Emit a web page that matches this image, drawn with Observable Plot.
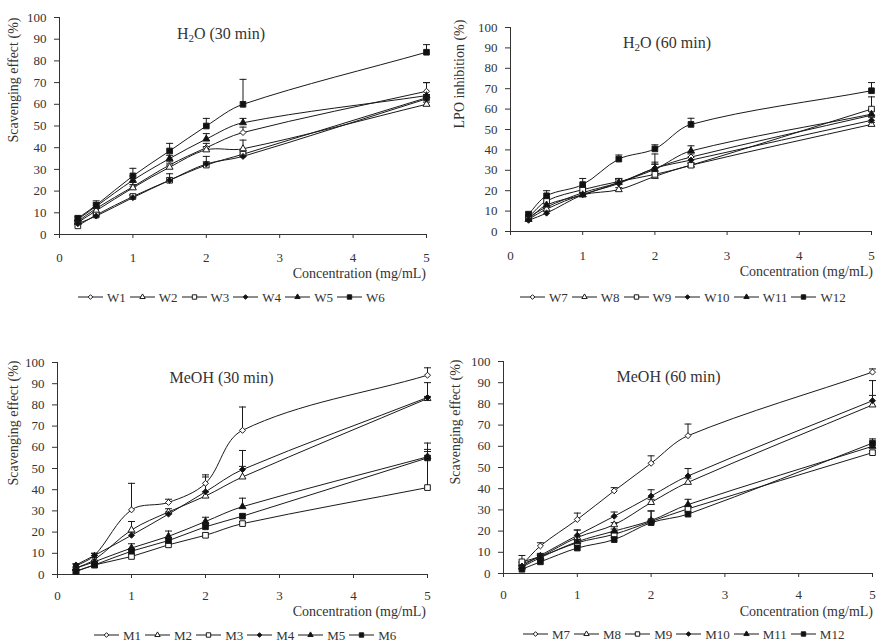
<!DOCTYPE html>
<html><head><meta charset="utf-8">
<script src="https://cdn.jsdelivr.net/npm/d3@7"></script>
<script src="https://cdn.jsdelivr.net/npm/@observablehq/plot@0.6"></script>
<style>
body{margin:0;background:#fff;font-family:"Liberation Serif","Times New Roman",serif;color:#333}
#root{position:relative;width:877px;height:643px;overflow:hidden;background:#fff}
.plot{position:absolute}
.title{position:absolute;font-size:16px;line-height:16px;white-space:nowrap;transform:translateX(-50%);color:#333}
.title sub{font-size:11px;line-height:0;vertical-align:-3px}
.xlab{position:absolute;font-size:14px;line-height:14px;white-space:nowrap;color:#333}
.ylab{position:absolute;font-size:14px;line-height:14px;white-space:nowrap;transform:translate(-50%,-50%) rotate(-90deg);color:#333}
.legend{position:absolute;display:flex;align-items:center;font-size:13px;line-height:13px;color:#333;white-space:nowrap}
.legend .it{display:flex;align-items:center;margin-right:4px}
.legend .it span{margin-left:4px}
</style></head>
<body><div id="root"></div>
<script>
// Concentrations (mg/mL)
const conc = [0.25, 0.5, 1, 1.5, 2, 2.5, 5];

// H2O (30 min) — scavenging effect (%) and upper error
const W1 = [6, 12, 22, 32, 40, 47, 66],        W1_err = [1, 1.5, 2, 1.5, 2, 2.5, 4];
const W2 = [5.5, 11, 21.5, 31, 39, 39.5, 60],  W2_err = [1, 1, 1.5, 1.5, 1.5, 4, 1];
const W3 = [4, 9, 17.5, 25, 32, 37, 63],       W3_err = [1, 1, 1, 1, 4, 1, 1.5];
const W4 = [5, 8.5, 17, 25, 32.5, 36, 62.5],   W4_err = [0.5, 0.5, 1, 3, 1, 1, 1];
const W5 = [7, 13, 25, 35, 44, 51.5, 64],      W5_err = [1, 1.5, 2, 1.5, 2.5, 2, 6];
const W6 = [7.5, 13.5, 27, 38.5, 50, 60, 84],  W6_err = [1, 2, 3.5, 3.5, 3.5, 11.5, 3.5];

// H2O (60 min) — LPO inhibition (%)
const W7  = [7, 12, 19, 24, 31, 36.5, 57],       W7_err  = [1, 1.5, 1, 1.5, 2, 1.5, 2];
const W8  = [6, 11, 18, 20.5, 27, 32.5, 52.5],   W8_err  = [0.5, 1, 1, 1, 1, 1, 1];
const W9  = [7, 15, 20.5, 24.5, 28, 32.5, 60],   W9_err  = [1, 1.5, 1, 1.5, 5, 1, 6];
const W10 = [5.5, 9, 18, 23.5, 31, 35, 54.5],    W10_err = [0.5, 1, 1, 1, 7, 1.5, 1.5];
const W11 = [6, 13, 18, 24, 30.5, 39.5, 57.5],   W11_err = [1, 1.5, 1, 2, 3.5, 2.5, 2.5];
const W12 = [8.5, 17.5, 23, 35.5, 40.5, 52.5, 69], W12_err = [1, 2.5, 3, 2, 2, 3, 4];

// MeOH (30 min) — scavenging effect (%)
const M1 = [4, 9, 30.5, 34, 43, 68, 94],       M1_err = [1, 1, 12.5, 1.5, 4, 11, 3.5];
const M2 = [3, 7, 21, 29.5, 37, 46, 83],       M2_err = [0.5, 1, 4, 1.5, 2, 5, 1];
const M3 = [1.5, 4.5, 8.5, 14, 18.5, 24, 41],  M3_err = [0.5, 0.5, 1, 1, 1, 1, 17];
const M4 = [4.5, 9, 18.5, 28.5, 39, 49.5, 83.5], M4_err = [0.5, 1, 1.5, 1, 7, 9, 7];
const M5 = [3, 6, 12.5, 18, 25, 32, 55.5],     M5_err = [0.5, 0.5, 2, 2.5, 2, 4, 6.5];
const M6 = [1.5, 4.5, 11, 16, 22.5, 27.5, 55], M6_err = [0.5, 0.5, 1, 1, 1, 1, 4];

// MeOH (60 min) — scavenging effect (%)
const M7  = [4, 13, 25.5, 39, 52, 65, 95],       M7_err  = [1, 1.5, 3, 1.5, 3.5, 5.5, 1.5];
const M8  = [4.5, 8, 17, 23, 33.5, 43, 79.5],    M8_err  = [1, 1, 3.5, 1, 1.5, 2, 4.5];
const M9  = [5.5, 8, 14.5, 18.5, 24.5, 30.5, 57], M9_err = [3, 1, 1, 1, 5, 1, 1];
const M10 = [3.5, 8.5, 18, 27, 36.5, 46, 81.5],  M10_err = [0.5, 1, 2.5, 2, 3, 3.5, 9.5];
const M11 = [3, 7.5, 15, 20, 25, 32.5, 60],      M11_err = [0.5, 1, 1, 1, 4.5, 2.5, 1.5];
const M12 = [2, 5.5, 12, 16, 24, 28, 61.5],      M12_err = [0.5, 0.5, 1, 1, 1, 1, 2];

// Labels
const titles = [["H", "2", "O (30 min)"], ["H", "2", "O (60 min)"], ["MeOH (30 min)"], ["MeOH (60 min)"]];
const yLabels = ["Scavenging effect (%)", "LPO inhibition (%)", "Scavenging effect (%)", "Scavenging effect (%)"];
const xLabel = "Concentration (mg/mL)";
const xTicks = [0, 1, 2, 3, 4, 5];
const yTicks = [0, 10, 20, 30, 40, 50, 60, 70, 80, 90, 100];

const panelSeries = [
  [["W1", W1, W1_err], ["W2", W2, W2_err], ["W3", W3, W3_err], ["W4", W4, W4_err], ["W5", W5, W5_err], ["W6", W6, W6_err]],
  [["W7", W7, W7_err], ["W8", W8, W8_err], ["W9", W9, W9_err], ["W10", W10, W10_err], ["W11", W11, W11_err], ["W12", W12, W12_err]],
  [["M1", M1, M1_err], ["M2", M2, M2_err], ["M3", M3, M3_err], ["M4", M4, M4_err], ["M5", M5, M5_err], ["M6", M6, M6_err]],
  [["M7", M7, M7_err], ["M8", M8, M8_err], ["M9", M9, M9_err], ["M10", M10, M10_err], ["M11", M11, M11_err], ["M12", M12, M12_err]]
];

// Marker styles by series position
const styles = [
  {symbol: "diamond2", fill: "white", r: 2.7},
  {symbol: "triangle2", fill: "white", r: 3.3},
  {symbol: "square2", fill: "white", r: 3.6},
  {symbol: "diamond2", fill: "#111", r: 2.7},
  {symbol: "triangle2", fill: "#111", r: 3.3},
  {symbol: "square2", fill: "#111", r: 3.6}
];

// Layout
const layout = [
  {left: 0,   top: 0,   width: 438, height: 290, mL: 59, mR: 12, mT: 17, mB: 56, tickOff: 18,
   title: {cx: 221, top: 25.5}, ylab: {cx: 14, cy: 80}, xlab: {right: 426, top: 267}, legend: {left: 78, cy: 297}},
  {left: 438, top: 0,   width: 439, height: 290, mL: 72, mR: 6,  mT: 27, mB: 59, tickOff: 19,
   title: {cx: 667, top: 34.5}, ylab: {cx: 460, cy: 73.5}, xlab: {right: 873, top: 265}, legend: {left: 520, cy: 297}},
  {left: 0,   top: 320, width: 440, height: 290, mL: 57, mR: 13, mT: 42, mB: 36, tickOff: 16,
   title: {cx: 221.5, top: 369.5}, ylab: {cx: 14, cy: 422.5}, xlab: {right: 426, top: 605}, legend: {left: 94, cy: 635}},
  {left: 438, top: 320, width: 439, height: 290, mL: 65, mR: 5,  mT: 41, mB: 37, tickOff: 16,
   title: {cx: 668.5, top: 368.5}, ylab: {cx: 456, cy: 421.5}, xlab: {right: 873, top: 605}, legend: {left: 523, cy: 634}}
];

// Spreadsheet-style smoothed line: tangent along neighbouring chord, handles one third of the segment
function smoothCurve(context) {
  let pts;
  const k = 1 / 3;
  return {
    areaStart() {}, areaEnd() {},
    lineStart() { pts = []; },
    point(x, y) { pts.push([+x, +y]); },
    lineEnd() {
      const n = pts.length;
      if (!n) return;
      context.moveTo(pts[0][0], pts[0][1]);
      for (let i = 0; i < n - 1; i++) {
        const p0 = pts[Math.max(i - 1, 0)], p1 = pts[i], p2 = pts[i + 1], p3 = pts[Math.min(i + 2, n - 1)];
        const seg = Math.hypot(p2[0] - p1[0], p2[1] - p1[1]);
        const t1 = [p2[0] - p0[0], p2[1] - p0[1]], l1 = Math.hypot(t1[0], t1[1]) || 1;
        const t2 = [p3[0] - p1[0], p3[1] - p1[1]], l2 = Math.hypot(t2[0], t2[1]) || 1;
        const h = seg * k;
        context.bezierCurveTo(
          p1[0] + t1[0] / l1 * h, p1[1] + t1[1] / l1 * h,
          p2[0] - t2[0] / l2 * h, p2[1] - t2[1] / l2 * h,
          p2[0], p2[1]);
      }
    }
  };
}

const capSymbol = {draw(ctx) { ctx.moveTo(-3.5, 0); ctx.lineTo(3.5, 0); }};
const ink = "#1a1a1a";
const root = document.getElementById("root");

panelSeries.forEach((series, p) => {
  const L = layout[p];
  const rows = series.flatMap(([name, vals, errs], si) =>
    conc.map((c, i) => ({series: name, si, x: c, y: vals[i], top: vals[i] + errs[i]})));

  const marks = [
    Plot.ruleY([0], {stroke: "#333"}),
    Plot.ruleX([0], {stroke: "#333"}),
    Plot.axisX({ticks: xTicks, tickSize: 4, tickPadding: L.tickOff - 4, tickFormat: d => String(d), label: null, fill: "#333", stroke: "#333"}),
    Plot.axisY({ticks: yTicks, tickSize: 5, tickPadding: 8, label: null, fill: "#333", stroke: "#333"}),
    Plot.line(rows, {x: "x", y: "y", z: "series", curve: smoothCurve, stroke: ink, strokeWidth: 1}),
    Plot.ruleX(rows, {x: "x", y1: "y", y2: "top", stroke: ink, strokeWidth: 1}),
    Plot.dot(rows, {x: "x", y: "top", symbol: capSymbol, stroke: ink, strokeWidth: 1, fill: "none"})
  ];
  series.forEach(([name], si) => {
    const s = styles[si];
    marks.push(Plot.dot(rows.filter(d => d.series === name), {x: "x", y: "y", symbol: s.symbol, r: s.r, fill: s.fill, stroke: ink, strokeWidth: 1}));
  });

  const chart = Plot.plot({
    width: L.width, height: L.height,
    marginLeft: L.mL, marginRight: L.mR, marginTop: L.mT, marginBottom: L.mB,
    x: {domain: [0, 5]},
    y: {domain: [0, 100]},
    style: {fontFamily: "'Liberation Serif', 'Times New Roman', serif", fontSize: "13px", color: "#333", background: "transparent", overflow: "visible"},
    marks
  });
  chart.classList.add("plot");
  chart.style.left = L.left + "px";
  chart.style.top = L.top + "px";
  root.appendChild(chart);

  // Title
  const t = document.createElement("div");
  t.className = "title";
  const parts = titles[p];
  if (parts.length === 3) t.innerHTML = `${parts[0]}<sub>${parts[1]}</sub>${parts[2]}`;
  else t.textContent = parts[0];
  t.style.left = L.title.cx + "px";
  t.style.top = L.title.top + "px";
  root.appendChild(t);

  // Y label
  const yl = document.createElement("div");
  yl.className = "ylab";
  yl.textContent = yLabels[p];
  yl.style.left = L.ylab.cx + "px";
  yl.style.top = L.ylab.cy + "px";
  root.appendChild(yl);

  // X label
  const xl = document.createElement("div");
  xl.className = "xlab";
  xl.textContent = xLabel;
  xl.style.right = (877 - L.xlab.right) + "px";
  xl.style.top = L.xlab.top + "px";
  root.appendChild(xl);

  // Legend
  const lg = document.createElement("div");
  lg.className = "legend";
  lg.style.left = L.legend.left + "px";
  lg.style.top = (L.legend.cy - 7) + "px";
  lg.style.height = "14px";
  series.forEach(([name], si) => {
    const s = styles[si];
    const it = document.createElement("div");
    it.className = "it";
    const svg = d3.create("svg").attr("width", 25).attr("height", 10);
    svg.append("line").attr("x1", 0).attr("x2", 25).attr("y1", 5).attr("y2", 5).attr("stroke", ink).attr("stroke-width", 1);
    const sym = {diamond2: d3.symbolDiamond2, triangle2: d3.symbolTriangle2, square2: d3.symbolSquare2}[s.symbol];
    svg.append("path").attr("transform", "translate(12.5,5)")
      .attr("d", d3.symbol(sym, s.r * s.r * Math.PI * 0.6)())
      .attr("fill", s.fill).attr("stroke", ink).attr("stroke-width", 1);
    it.appendChild(svg.node());
    const sp = document.createElement("span");
    sp.textContent = name;
    it.appendChild(sp);
    lg.appendChild(it);
  });
  root.appendChild(lg);
});
</script>
</body></html>
